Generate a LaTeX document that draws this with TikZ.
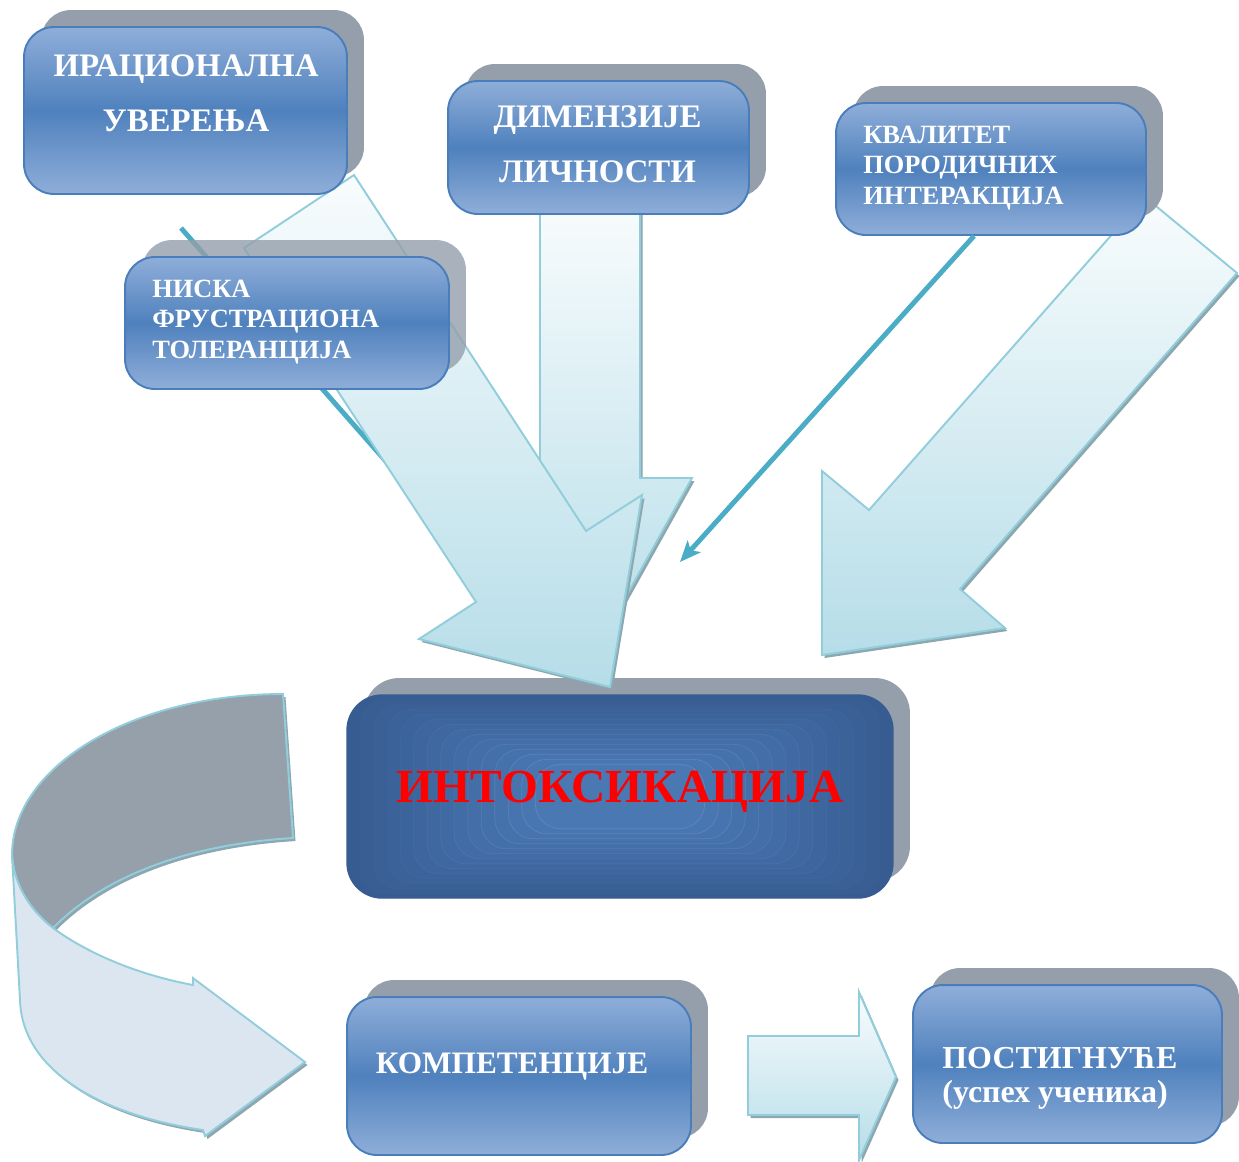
\documentclass[tikz,border=0pt]{standalone}
\usepackage{fontspec}
\setmainfont{Liberation Serif}
\usetikzlibrary{arrows.meta, calc, shadows}

\definecolor{boxlight}{HTML}{8FAED9}
\definecolor{boxmid}{HTML}{4F81BD}
\definecolor{boxline}{HTML}{4A7EBB}
\definecolor{shadowgray}{HTML}{949FAB}
\definecolor{intoxout}{HTML}{375C92}
\definecolor{intoxin}{HTML}{4A79B4}
\definecolor{arrowline}{HTML}{92CDDC}
\definecolor{arrowtop}{HTML}{F8FCFD}
\definecolor{arrowbot}{HTML}{B6DDE8}
\definecolor{arrowshade}{HTML}{8CA7AF}
\definecolor{tealline}{HTML}{4BACC6}
\definecolor{ribbonback}{HTML}{96A0AA}
\definecolor{ribbonfront}{HTML}{DCE6F1}

\tikzset{
  blockbox/.style={rounded corners=0.6cm, draw=boxline, line width=1.1pt,
    top color=boxlight, bottom color=boxlight, middle color=boxmid, inner sep=0pt,
    drop shadow={shadow xshift=0.34cm, shadow yshift=0.34cm, fill=shadowgray, opacity=#1}},
  blockbox/.default=1,
  intoxbox/.style={rounded corners=0.7cm, draw=intoxout, line width=0.8pt, fill=intoxout, inner sep=0pt,
    drop shadow={shadow xshift=0.34cm, shadow yshift=0.34cm, fill=shadowgray, opacity=1}},
  intoxring/.style={draw=white!12!intoxin!#1!intoxout, fill=intoxin!#1!intoxout, line width=0.4pt, rounded corners=0.5cm},
  boxtext/.style={text=white, inner sep=0pt, anchor=base},
  bigfont/.style={font=\bfseries\fontsize{18.7}{31.3}\selectfont},
  smallfont/.style={font=\bfseries\fontsize{15}{17.1}\selectfont},
  bigarrow/.style={draw=arrowline, line width=1.1pt, line join=miter, top color=arrowtop, bottom color=arrowbot,
    drop shadow={shadow xshift=0.05cm, shadow yshift=-0.06cm, fill=arrowshade, opacity=1}},
  thinarrow/.style={draw=tealline, line width=2.8pt, -{Stealth[length=12pt, width=10pt, inset=3pt]}},
  ribbon/.style={draw=arrowline, line width=1.1pt, line join=miter, fill=#1,
    drop shadow={shadow xshift=0.05cm, shadow yshift=-0.06cm, fill=arrowshade, opacity=1}},
}

\begin{document}
\begin{tikzpicture}[x=0.02cm, y=-0.02cm]
      \useasboundingbox (0, 0) rectangle (1239, 1161);

      \node[intoxbox, minimum width=10.92cm, minimum height=4.06cm] (intoxBox) at (620, 796.5) {};
      \foreach \k in {1,...,14} {
        \pgfmathsetmacro{\mixv}{\k*7}
        \draw[intoxring=\mixv] ([shift={(\k*0.27cm,-\k*0.1cm)}]intoxBox.north west) rectangle ([shift={(-\k*0.27cm,\k*0.1cm)}]intoxBox.south east);
      }
      \node[anchor=base, inner sep=0pt, text=red, font=\bfseries\fontsize{27}{30}\selectfont] (intoxText) at (620, 802) {ИНТОКСИКАЦИЈА};

      \coordinate (cStart) at (181, 228);
      \coordinate (cEnd) at (455, 540);
      \coordinate (dTip) at (680, 562);

      \draw[bigarrow] (540, 200) -- (540, 478) -- (488, 478) -- (590, 661) -- (692, 478) -- (640, 478) -- (640, 200) -- cycle;
      \draw[bigarrow] (1145, 197) -- (1237, 273) -- (960, 589) -- (1005, 628) -- (822, 655) -- (822, 471) -- (869, 510) -- cycle;
      \draw[thinarrow] (cStart) -- (cEnd);
      \draw[bigarrow] (354, 175) -- (586, 531) -- (642, 495) -- (610, 687) -- (419, 639) -- (476, 602) -- (244, 248) -- cycle;

      \node[blockbox, minimum width=6.46cm, minimum height=3.34cm] (irBox) at (185.5, 110.5) {};
      \node[blockbox, minimum width=6.02cm, minimum height=2.66cm] (dimBox) at (598.5, 147.5) {};
      \node[blockbox, minimum width=6.2cm, minimum height=2.64cm] (kvalBox) at (991, 169) {};
      \node[blockbox=.8, minimum width=6.48cm, minimum height=2.64cm] (niskaBox) at (287, 323) {};

      \node[boxtext, bigfont, align=center] (irText) at (186, 131) {ИРАЦИОНАЛНА\\УВЕРЕЊА};
      \node[boxtext, bigfont, align=center] (dimText) at (597.5, 182) {ДИМЕНЗИЈЕ\\ЛИЧНОСТИ};
      \node[boxtext, smallfont, align=left, anchor=base west] (kvalText) at (863, 204) {КВАЛИТЕТ\\ПОРОДИЧНИХ\\ИНТЕРАКЦИЈА};
      \node[boxtext, smallfont, align=left, anchor=base west] (niskaText) at (152, 358) {НИСКА\\ФРУСТРАЦИОНА\\ТОЛЕРАНЦИЈА};

      \draw[thinarrow] ([xshift=-0.34cm]kvalBox.south) -- (dTip);

      \draw[ribbon=ribbonback] (283, 694) .. controls (133, 694) and (12, 766) .. (12, 855)
        .. controls (14, 885) and (30, 910) .. (53, 928)
        .. controls (100, 880) and (180, 845) .. (293, 838) -- cycle;
      \draw[ribbon=ribbonfront] (12, 855) .. controls (14, 885) and (30, 910) .. (53, 928)
        .. controls (90, 955) and (140, 975) .. (193, 985) -- (193, 978) -- (305, 1062) -- (205, 1136) -- (203, 1130)
        .. controls (100, 1115) and (22, 1070) .. (20, 1000) -- cycle;

      \node[blockbox, minimum width=6.88cm, minimum height=3.16cm] (kompBox) at (519, 1076) {};
      \node[boxtext, font=\bfseries\fontsize{17.8}{20}\selectfont] (kompText) at (512, 1073) {КОМПЕТЕНЦИЈЕ};

      \draw[bigarrow] (748, 1036) -- (859, 1036) -- (859, 992) -- (896, 1077) -- (859, 1160) -- (859, 1115) -- (748, 1115) -- cycle;

      \node[blockbox, minimum width=6.18cm, minimum height=3.16cm] (postBox) at (1067.5, 1064) {};
      \node[boxtext, align=left, anchor=base west, font=\bfseries\fontsize{18.2}{19.3}\selectfont] (postText) at (942, 1102) {ПОСТИГНУЋЕ\\(успех ученика)};
\end{tikzpicture}
\end{document}
